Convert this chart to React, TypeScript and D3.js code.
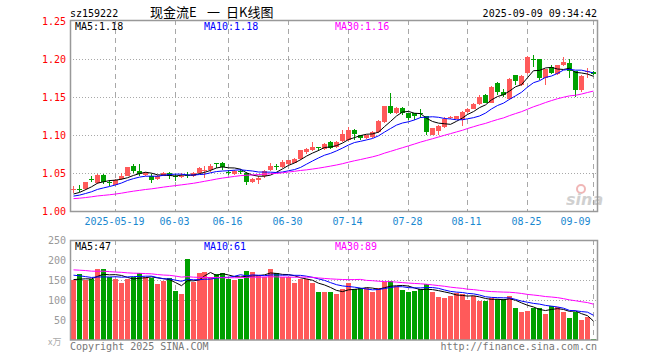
import React from "react";
import * as d3 from "d3";

// trading days shown (88), month -> days
const tradeDays: [string, number[]][] = [
  ["05", [8, 9, 12, 13, 14, 15, 16, 19, 20, 21, 22, 23, 26, 27, 28, 29, 30]],
  ["06", [3, 4, 5, 6, 9, 10, 11, 12, 13, 16, 17, 18, 19, 20, 23, 24, 25, 26, 27, 30]],
  ["07", [1, 2, 3, 4, 7, 8, 9, 10, 11, 14, 15, 16, 17, 18, 21, 22, 23, 24, 25, 28, 29, 30, 31]],
  ["08", [1, 4, 5, 6, 7, 8, 11, 12, 13, 14, 15, 18, 19, 20, 21, 22, 25, 26, 27, 28, 29]],
  ["09", [1, 2, 3, 4, 5, 8, 9]],
];
const dates = tradeDays.flatMap(([m, ds]) =>
  ds.map((d) => m + "-" + String(d).padStart(2, "0"))
);

const opens = [
  1.028, 1.030, 1.029, 1.042, 1.037, 1.048, 1.038, 1.035, 1.042, 1.047,
  1.059, 1.053, 1.048, 1.047, 1.042, 1.047, 1.051, 1.047, 1.046, 1.048,
  1.046, 1.051, 1.053, 1.054, 1.064, 1.063, 1.052, 1.049, 1.053, 1.051,
  1.038, 1.041, 1.046, 1.054, 1.059, 1.058, 1.062, 1.064, 1.069, 1.078,
  1.080, 1.085, 1.082, 1.091, 1.084, 1.092, 1.094, 1.107, 1.100, 1.096,
  1.098, 1.104, 1.117, 1.138, 1.129, 1.136, 1.129, 1.129, 1.129, 1.125,
  1.101, 1.106, 1.111, 1.123, 1.122, 1.120, 1.131, 1.135, 1.141, 1.153,
  1.143, 1.169, 1.157, 1.148, 1.179, 1.166, 1.182, 1.200, 1.200, 1.176,
  1.190, 1.181, 1.192, 1.195, 1.184, 1.160, 1.184, 1.183,
];
const highs = [
  1.033, 1.034, 1.039, 1.046, 1.049, 1.049, 1.041, 1.042, 1.050, 1.058,
  1.062, 1.062, 1.052, 1.049, 1.048, 1.052, 1.052, 1.049, 1.050, 1.052,
  1.052, 1.058, 1.060, 1.062, 1.064, 1.065, 1.054, 1.054, 1.056, 1.052,
  1.044, 1.046, 1.054, 1.064, 1.062, 1.068, 1.068, 1.070, 1.081, 1.083,
  1.091, 1.085, 1.090, 1.092, 1.092, 1.107, 1.111, 1.108, 1.101, 1.101,
  1.106, 1.120, 1.139, 1.156, 1.137, 1.137, 1.130, 1.130, 1.134, 1.126,
  1.110, 1.113, 1.124, 1.126, 1.126, 1.132, 1.136, 1.142, 1.153, 1.154,
  1.165, 1.170, 1.161, 1.175, 1.180, 1.179, 1.204, 1.206, 1.201, 1.187,
  1.193, 1.193, 1.203, 1.201, 1.185, 1.179, 1.188, 1.184,
];
const lows = [
  1.024, 1.025, 1.028, 1.038, 1.036, 1.036, 1.033, 1.034, 1.041, 1.046,
  1.051, 1.046, 1.046, 1.037, 1.041, 1.046, 1.042, 1.040, 1.044, 1.044,
  1.045, 1.050, 1.044, 1.052, 1.057, 1.055, 1.048, 1.048, 1.049, 1.035,
  1.037, 1.036, 1.044, 1.053, 1.054, 1.057, 1.061, 1.063, 1.068, 1.076,
  1.079, 1.079, 1.081, 1.082, 1.083, 1.091, 1.093, 1.094, 1.094, 1.095,
  1.097, 1.103, 1.116, 1.128, 1.128, 1.127, 1.120, 1.120, 1.123, 1.100,
  1.101, 1.100, 1.110, 1.121, 1.121, 1.112, 1.130, 1.134, 1.140, 1.142,
  1.142, 1.153, 1.150, 1.147, 1.166, 1.165, 1.181, 1.190, 1.173, 1.166,
  1.181, 1.180, 1.191, 1.175, 1.150, 1.157, 1.176, 1.179,
];
const closes = [
  1.029, 1.029, 1.038, 1.041, 1.048, 1.038, 1.037, 1.041, 1.047, 1.058,
  1.053, 1.049, 1.050, 1.041, 1.047, 1.051, 1.047, 1.046, 1.047, 1.047,
  1.051, 1.057, 1.054, 1.060, 1.063, 1.058, 1.051, 1.053, 1.052, 1.039,
  1.043, 1.044, 1.053, 1.059, 1.058, 1.065, 1.067, 1.069, 1.080, 1.082,
  1.085, 1.084, 1.089, 1.083, 1.091, 1.102, 1.107, 1.102, 1.096, 1.100,
  1.104, 1.119, 1.138, 1.130, 1.136, 1.130, 1.123, 1.126, 1.128, 1.105,
  1.109, 1.112, 1.122, 1.124, 1.125, 1.131, 1.135, 1.141, 1.150, 1.143,
  1.164, 1.157, 1.153, 1.174, 1.171, 1.178, 1.203, 1.199, 1.176, 1.187,
  1.182, 1.192, 1.196, 1.184, 1.160, 1.178, 1.185, 1.181,
];
// volume in 万
const volumes = [
  150, 165, 150, 153, 177, 177, 158, 152, 143, 152,
  158, 167, 158, 154, 140, 148, 154, 122, 115, 202,
  146, 168, 170, 158, 165, 167, 153, 150, 153, 173,
  170, 160, 158, 177, 167, 158, 158, 143, 152, 152,
  142, 121, 121, 121, 115, 127, 143, 127, 129, 129,
  121, 129, 146, 147, 135, 125, 121, 122, 127, 139,
  121, 108, 106, 111, 117, 115, 100, 110, 97, 97,
  104, 102, 102, 110, 79, 71, 72, 81, 79, 65,
  85, 82, 71, 55, 70, 51, 57, 3,
];
// sessions before the visible window, needed by the moving averages
const priorCloses = [
  1.012, 1.013, 1.011, 1.014, 1.015, 1.013, 1.012, 1.014, 1.016, 1.015,
  1.017, 1.016, 1.015, 1.014, 1.016, 1.017, 1.016, 1.018, 1.017, 1.019,
  1.016, 1.017, 1.018, 1.017, 1.018, 1.019, 1.020, 1.022, 1.024,
];
const priorVolumes = [
  190, 175, 200, 185, 170, 195, 180, 165, 190, 185,
  175, 180, 170, 195, 185, 175, 180, 190, 170, 185,
  180, 170, 175, 165, 175, 160, 145, 155, 145,
];

const tickDates = ["05-19", "06-03", "06-16", "06-30", "07-14", "07-28", "08-11", "08-25", "09-09"];
const tickLabels = ["2025-05-19", "06-03", "06-16", "06-30", "07-14", "07-28", "08-11", "08-25", "09-09"];
const priceTicks = [1.0, 1.05, 1.1, 1.15, 1.2, 1.25];
const volTicks = [50, 100, 150, 200, 250];
const maPeriods = [5, 10, 30];
const maColors = ["#000000", "#0000ff", "#ff00ff"];
const priceLegend = ["1.18", "1.18", "1.16"];
const volLegend = ["47", "61", "89"];

const UP = "#ff5a5a";
const DOWN = "#00a000";
const GRID = "#a8a8a8";
const MONO = "'DejaVu Sans Mono', monospace";
const CJK = "'Noto Sans CJK SC', sans-serif";

const movingAvg = (vals: number[], prior: number[], n: number) => {
  const all = prior.concat(vals);
  return vals.map((_, i) => d3.mean(all.slice(prior.length + i - n + 1, prior.length + i + 1)) as number);
};

export default function App() {
  const left = 70, right = 597;
  const x = d3.scaleBand<number>().domain(d3.range(closes.length)).range([left, right - 1]);
  const cx = (i: number) => Math.round(x(i)! + x.bandwidth() / 2);
  const y = d3.scaleLinear().domain([1.0, 1.25]).range([211.3, 21.3]);
  const yv = d3.scaleLinear().domain([0, 250]).range([340, 240]);

  const priceLine = d3.line<number>().x((_, i) => cx(i) + 0.5).y((d) => y(d));
  const volLine = d3.line<number>().x((_, i) => cx(i) + 0.5).y((d) => yv(d));

  const tickX = tickDates.map((d) => cx(dates.indexOf(d)) + 0.5);

  return (
    <svg width={660} height={360} style={{ position: "absolute", left: 0, top: 0, background: "#fff" }}>
      {/* header */}
      <text x={70} y={16.5} fontFamily={MONO} fontSize={10} fill="#000">sz159222</text>
      <text x={150} y={16.5} fontFamily={CJK} fontSize={13} fill="#000">现金流E</text>
      <text x={207} y={16.5} fontFamily={CJK} fontSize={13} fill="#000">一</text>
      <text x={226} y={16.5} fontFamily={CJK} fontSize={13} fill="#000">日K线图</text>
      <text x={597} y={16.5} fontFamily={MONO} fontSize={10} fill="#000" textAnchor="end">2025-09-09 09:34:42</text>

      {/* price panel grid */}
      {priceTicks.slice(1, -1).map((t) => (
        <line key={t} x1={left} x2={right} y1={Math.round(y(t)) + 0.5} y2={Math.round(y(t)) + 0.5}
          stroke={GRID} strokeDasharray="1,2" />
      ))}
      {tickX.map((tx, k) => (
        <g key={k}>
          <line x1={tx} x2={tx} y1={20} y2={211} stroke={GRID} strokeDasharray="5,4" />
          <line x1={tx} x2={tx} y1={240} y2={340} stroke={GRID} strokeDasharray="5,4" />
        </g>
      ))}
      {priceTicks.map((t) => (
        <text key={t} x={66} y={y(t) + 3.5} textAnchor="end" fontFamily={MONO} fontSize={10} fill="#ff0000">
          {t.toFixed(2)}
        </text>
      ))}
      {tickLabels.map((lb, k) => (
        <text key={lb} x={k === tickLabels.length - 1 ? tickX[k] - 3 : tickX[k] - 1} y={225}
          textAnchor={k === tickLabels.length - 1 ? "end" : "middle"} fontFamily={MONO} fontSize={10} fill="#1a88d0">
          {lb}
        </text>
      ))}

      {/* sina watermark */}
      <g opacity={0.45}>
        <circle cx={581} cy={189} r={4} fill="none" stroke="#e06060" strokeWidth={2} />
        <text x={566} y={205} fontFamily="'DejaVu Sans', sans-serif" fontStyle="italic" fontWeight="bold" fontSize={16} fill="#999">sina</text>
      </g>

      {/* candles */}
      <g shapeRendering="crispEdges">
        {closes.map((c, i) => {
          const o = opens[i];
          const col = c >= o ? UP : DOWN;
          const top = Math.round(y(Math.max(o, c)));
          const h = Math.max(1, Math.round(y(Math.min(o, c))) - top);
          return (
            <g key={i}>
              <rect x={cx(i)} y={Math.round(y(highs[i]))} width={1} height={Math.max(1, Math.round(y(lows[i])) - Math.round(y(highs[i])))} fill={col} />
              <rect x={cx(i) - 2} y={top} width={5} height={h} fill={col} />
            </g>
          );
        })}
      </g>
      {maPeriods.map((n, k) => (
        <path key={n} d={priceLine(movingAvg(closes, priorCloses, n))!} fill="none" stroke={maColors[k]} strokeWidth={1} />
      ))}
      <rect x={70.5} y={20.5} width={527} height={191} fill="none" stroke="#999" strokeWidth={1.5} />
      {maPeriods.map((n, k) => (
        <text key={n} x={[75, 204, 335][k]} y={29.5} fontFamily={MONO} fontSize={10} fill={maColors[k]}>
          {"MA" + n + ":" + priceLegend[k]}
        </text>
      ))}

      {/* volume panel */}
      {volTicks.slice(0, -1).map((t) => (
        <line key={t} x1={left} x2={right} y1={yv(t) + 0.5} y2={yv(t) + 0.5} stroke={GRID} strokeDasharray="1,2" />
      ))}
      {volTicks.map((t) => (
        <text key={t} x={66} y={yv(t) + 3.5} textAnchor="end" fontFamily={MONO} fontSize={10} fill="#999">{t}</text>
      ))}
      <text x={48} y={345} fontFamily={CJK} fontSize={9} fill="#aaa">x万</text>
      <g shapeRendering="crispEdges">
        {volumes.map((v, i) => (
          <rect key={i} x={cx(i) - 2} y={Math.round(yv(v))} width={5} height={340 - Math.round(yv(v))}
            fill={closes[i] >= opens[i] ? UP : DOWN} />
        ))}
      </g>
      {maPeriods.map((n, k) => (
        <path key={n} d={volLine(movingAvg(volumes, priorVolumes, n))!} fill="none" stroke={maColors[k]} strokeWidth={1} />
      ))}
      <rect x={70.5} y={240.5} width={527} height={99.5} fill="none" stroke="#999" strokeWidth={1.5} />
      {maPeriods.map((n, k) => (
        <text key={n} x={[75, 204, 335][k]} y={250} fontFamily={MONO} fontSize={10} fill={maColors[k]}>
          {"MA" + n + ":" + volLegend[k]}
        </text>
      ))}

      {/* footer */}
      <text x={70} y={350} fontFamily={MONO} fontSize={10} fill="#777">Copyright 2025 SINA.COM</text>
      <text x={597} y={350} textAnchor="end" fontFamily={MONO} fontSize={10} fill="#777">http://finance.sina.com.cn</text>
    </svg>
  );
}
